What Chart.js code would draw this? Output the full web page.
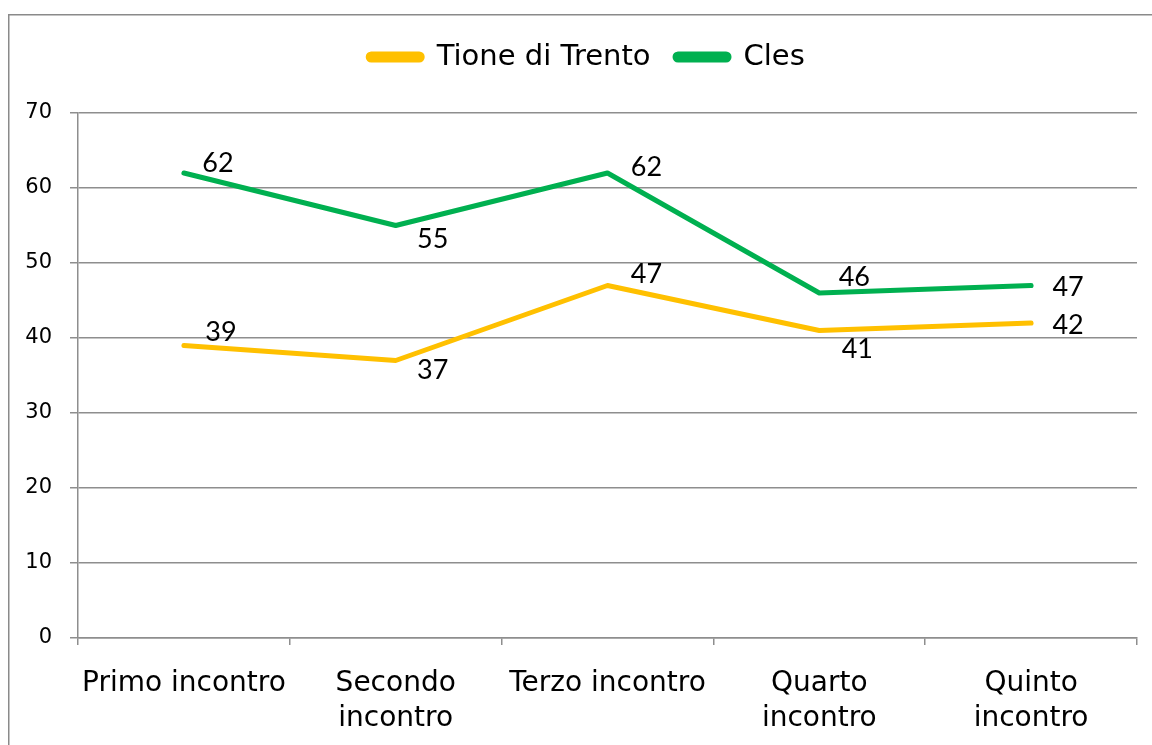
<!DOCTYPE html>
<html>
<head>
<meta charset="utf-8">
<script src="https://cdn.jsdelivr.net/npm/chart.js@4"></script>
<style>
  body { margin: 0; background: #fff; }
  canvas { display: block; }
</style>
</head>
<body>
<canvas id="chart" width="1152" height="745"></canvas>
<script>
// data
const categories = [["Primo incontro"], ["Secondo", "incontro"], ["Terzo incontro"], ["Quarto", "incontro"], ["Quinto", "incontro"]];
const tioneValues = [39, 37, 47, 41, 42];
const clesValues = [62, 55, 62, 46, 47];
const seriesNames = ["Tione di Trento", "Cles"];

// where each value label sits relative to its point (dx, dy)
const tioneLabelOffsets = [[37, -13], [37, 10], [39, -11], [38, 19], [37, 2]];
const clesLabelOffsets = [[34, -10], [37, 14], [39, -6], [35, -16], [37, 2]];

const axisFont = "'DejaVu Sans', sans-serif";
const gridGray = "#8e8e8e";

const frame = {
  id: "frame",
  beforeDraw(chart) {
    const ctx = chart.ctx;
    ctx.save();
    ctx.fillStyle = "#fff";
    ctx.fillRect(0, 0, chart.width, chart.height);
    ctx.strokeStyle = "#8a8a8a";
    ctx.lineWidth = 1.5;
    ctx.beginPath();
    ctx.moveTo(8.75, chart.height + 5);
    ctx.lineTo(8.75, 14.75);
    ctx.lineTo(chart.width + 5, 14.75);
    ctx.stroke();
    ctx.restore();
  }
};

const valueLabels = {
  id: "valueLabels",
  afterDatasetsDraw(chart) {
    const ctx = chart.ctx;
    ctx.save();
    ctx.font = "27px Lato, 'Open Sans', sans-serif";
    ctx.fillStyle = "#000";
    ctx.textAlign = "center";
    ctx.textBaseline = "middle";
    chart.data.datasets.forEach((ds, i) => {
      const meta = chart.getDatasetMeta(i);
      meta.data.forEach((pt, j) => {
        const off = ds.labelOffsets[j];
        ctx.fillText(ds.data[j], pt.x + off[0], pt.y + off[1]);
      });
    });
    ctx.restore();
  }
};

// fixed legend band height, nudged right like the original
const legendBand = {
  id: "legendBand",
  beforeInit(chart) {
    const fit = chart.legend.fit;
    chart.legend.fit = function () {
      fit.call(this);
      this.height = 95;
    };
  },
  afterLayout(chart) {
    chart.legend.left += 18;
    chart.legend.right += 18;
  }
};

new Chart(document.getElementById("chart"), {
  type: "line",
  data: {
    labels: categories,
    datasets: [
      {
        label: seriesNames[0],
        data: tioneValues,
        labelOffsets: tioneLabelOffsets,
        borderColor: "#FFC000",
        backgroundColor: "#FFC000",
        borderWidth: 5,
        borderCapStyle: "round",
        borderJoinStyle: "round",
        pointRadius: 0,
        tension: 0
      },
      {
        label: seriesNames[1],
        data: clesValues,
        labelOffsets: clesLabelOffsets,
        borderColor: "#00B050",
        backgroundColor: "#00B050",
        borderWidth: 5,
        borderCapStyle: "round",
        borderJoinStyle: "round",
        pointRadius: 0,
        tension: 0
      }
    ]
  },
  options: {
    responsive: false,
    animation: false,
    layout: { padding: { top: 18, left: 0, right: 15, bottom: 0 } },
    plugins: {
      tooltip: { enabled: false },
      legend: {
        position: "top",
        labels: {
          color: "#000",
          font: { family: axisFont, size: 29 },
          boxWidth: 54,
          boxHeight: 6,
          useBorderRadius: true,
          borderRadius: 3,
          padding: 24.5
        }
      }
    },
    scales: {
      x: {
        offset: true,
        grid: {
          offset: true,
          drawOnChartArea: false,
          color: gridGray,
          lineWidth: 1.5,
          tickLength: 7
        },
        border: { color: gridGray, width: 1.5 },
        ticks: {
          color: "#000",
          font: { family: axisFont, size: 28, lineHeight: 1.25 },
          padding: 21,
          maxRotation: 0,
          autoSkip: false
        },
        afterFit(scale) { scale.height = 107; }
      },
      y: {
        min: 0,
        max: 70,
        grid: { color: gridGray, lineWidth: 1.5, tickLength: 8 },
        border: { color: gridGray, width: 1.5 },
        ticks: {
          stepSize: 10,
          color: "#000",
          font: { family: axisFont, size: 21 },
          padding: 18
        },
        afterFit(scale) { scale.width = 78; }
      }
    }
  },
  plugins: [frame, valueLabels, legendBand]
});
</script>
</body>
</html>
